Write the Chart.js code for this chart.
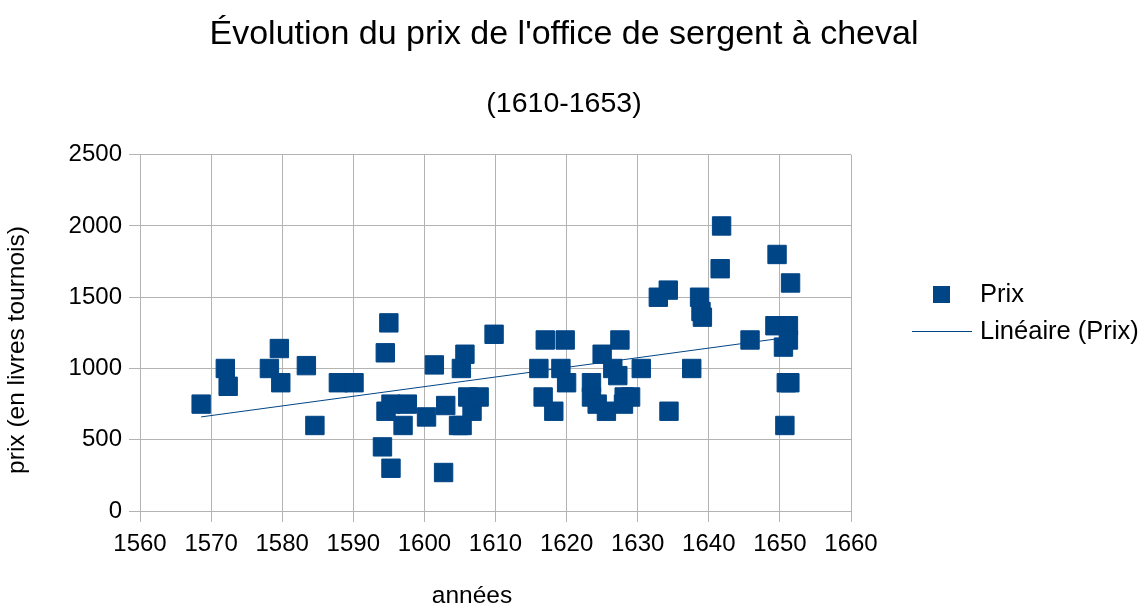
<!DOCTYPE html>
<html>
<head>
<meta charset="utf-8">
<script src="https://cdn.jsdelivr.net/npm/chart.js@4/dist/chart.umd.min.js"></script>
<style>
  body { margin: 0; background: #fff; }
  #wrap { width: 1143px; height: 607px; }
</style>
</head>
<body>
<div id="wrap"><canvas id="prixChart" width="1143" height="607"></canvas></div>
<script>
// values
const annees = [
  1568.6, 1572.0, 1572.4, 1578.2, 1579.6, 1579.8, 1583.4, 1584.6, 1587.9, 1590.1,
  1594.1, 1594.5, 1594.6, 1595.0, 1595.3, 1595.3, 1597.0, 1597.6, 1600.3, 1601.4,
  1602.7, 1603.0, 1604.8, 1605.3, 1605.2, 1605.7, 1606.1, 1606.7, 1607.7, 1609.8,
  1616.1, 1616.7, 1617.0, 1618.2, 1619.2, 1619.8, 1620.0, 1623.5, 1623.5, 1624.3,
  1625.0, 1625.6, 1626.5, 1627.2, 1627.5, 1628.1, 1629.0, 1628.0, 1630.5, 1632.9,
  1634.3, 1634.4, 1637.6, 1638.7, 1638.9, 1639.1, 1641.6, 1641.8, 1645.8, 1649.3,
  1649.6, 1650.5, 1650.7, 1650.9, 1651.2, 1651.2, 1651.4, 1651.5
];
const prix = [
  750, 1000, 875, 1000, 1140, 900, 1020, 600, 900, 900,
  450, 1110, 700, 1320, 300, 750, 600, 750, 660, 1025,
  270, 740, 600, 600, 1000, 1100, 800, 700, 800, 1240,
  1000, 800, 1200, 700, 1000, 1200, 900, 900, 800, 750,
  1100, 700, 1000, 950, 1200, 800, 800, 750, 1000, 1500,
  1550, 700, 1000, 1500, 1400, 1360, 1700, 2000, 1200, 1300,
  1800, 1150, 600, 900, 1300, 1200, 900, 1600
];
const xTicks = [1560, 1660, 10];
const yTicks = [0, 2500, 500];

const couleur = '#004586';
const grille = '#b3b3b3';

var points = [];
for (var i = 0; i < annees.length; i++) {
    points.push({x: annees[i], y: prix[i]});
}

// linear trend (least squares) for "Linéaire (Prix)"
function tendance(xs, ys) {
    var n = xs.length, sx = 0, sy = 0, sxy = 0, sxx = 0;
    for (var i = 0; i < n; i++) {
        sx += xs[i]; sy += ys[i]; sxy += xs[i] * ys[i]; sxx += xs[i] * xs[i];
    }
    var b = (n * sxy - sx * sy) / (n * sxx - sx * sx);
    var a = (sy - b * sx) / n;
    var x0 = Math.min.apply(null, xs), x1 = Math.max.apply(null, xs);
    return [{x: x0, y: a + b * x0}, {x: x1, y: a + b * x1}];
}

const police = 'Liberation Sans';

const decor = {
    id: 'decor',
    afterDraw(chart) {
        const ctx = chart.ctx;
        ctx.save();
        ctx.fillStyle = '#000';
        ctx.font = '24.5px "' + police + '"';
        ctx.textBaseline = 'middle';
        // axis titles
        ctx.textAlign = 'center';
        ctx.fillText('années', 472, 596);
        ctx.save();
        ctx.translate(17, 350);
        ctx.rotate(-Math.PI / 2);
        ctx.fillText('prix (en livres tournois)', 0, 0);
        ctx.restore();
        // legend
        ctx.font = '25.5px "' + police + '"';
        ctx.textAlign = 'left';
        ctx.fillStyle = couleur;
        ctx.fillRect(933, 286, 17, 17);
        ctx.strokeStyle = couleur;
        ctx.lineWidth = 1;
        ctx.beginPath();
        ctx.moveTo(912, 331.5);
        ctx.lineTo(972, 331.5);
        ctx.stroke();
        ctx.fillStyle = '#000';
        ctx.fillText('Prix', 980, 295);
        ctx.fillText('Linéaire (Prix)', 980, 332);
        ctx.restore();
    }
};

const ctx = document.getElementById('prixChart').getContext('2d');
const prixChart = new Chart(ctx, {
    data: {
        datasets: [{
            type: 'scatter',
            label: 'Prix',
            data: points,
            backgroundColor: couleur,
            borderColor: couleur,
            borderWidth: 1,
            pointStyle: 'rect',
            pointRadius: 13,
            pointHoverRadius: 13
        }, {
            type: 'line',
            label: 'Linéaire (Prix)',
            data: tendance(annees, prix),
            borderColor: couleur,
            borderWidth: 1,
            pointRadius: 0,
            fill: false
        }]
    },
    plugins: [decor],
    options: {
        responsive: false,
        animation: false,
        events: [],
        layout: { padding: { left: 0, right: 15, top: 0, bottom: 0 } },
        plugins: {
            legend: { display: false },
            tooltip: { enabled: false },
            title: {
                display: true,
                text: "Évolution du prix de l'office de sergent à cheval",
                color: '#000',
                font: { family: police, size: 34, weight: 'normal', lineHeight: 1.2 },
                padding: { top: 14.6, bottom: 0 }
            },
            subtitle: {
                display: true,
                text: '(1610-1653)',
                color: '#000',
                font: { family: police, size: 28.5, weight: 'normal', lineHeight: 1.2 },
                padding: { top: 31.5, bottom: 33.6 }
            }
        },
        scales: {
            x: {
                type: 'linear',
                position: 'bottom',
                min: xTicks[0],
                max: xTicks[1],
                afterFit(s) { s.height = 96; },
                ticks: {
                    stepSize: xTicks[2],
                    color: '#000',
                    padding: 8,
                    font: { family: police, size: 24 },
                    callback: (v) => String(v)
                },
                grid: { color: grille, tickLength: 11, tickColor: grille },
                border: { color: grille }
            },
            y: {
                type: 'linear',
                position: 'left',
                min: yTicks[0],
                max: yTicks[1],
                afterFit(s) { s.width = 140; },
                ticks: {
                    stepSize: yTicks[2],
                    color: '#000',
                    padding: 7,
                    font: { family: police, size: 24 },
                    callback: (v) => String(v)
                },
                grid: { color: grille, tickLength: 11, tickColor: grille },
                border: { color: grille }
            },
            // empty column that keeps room for the legend on the right
            cote: {
                type: 'linear',
                position: 'right',
                display: true,
                afterFit(s) { s.width = 277; },
                ticks: { display: false },
                grid: { display: false },
                border: { display: false }
            }
        }
    }
});
</script>
</body>
</html>
